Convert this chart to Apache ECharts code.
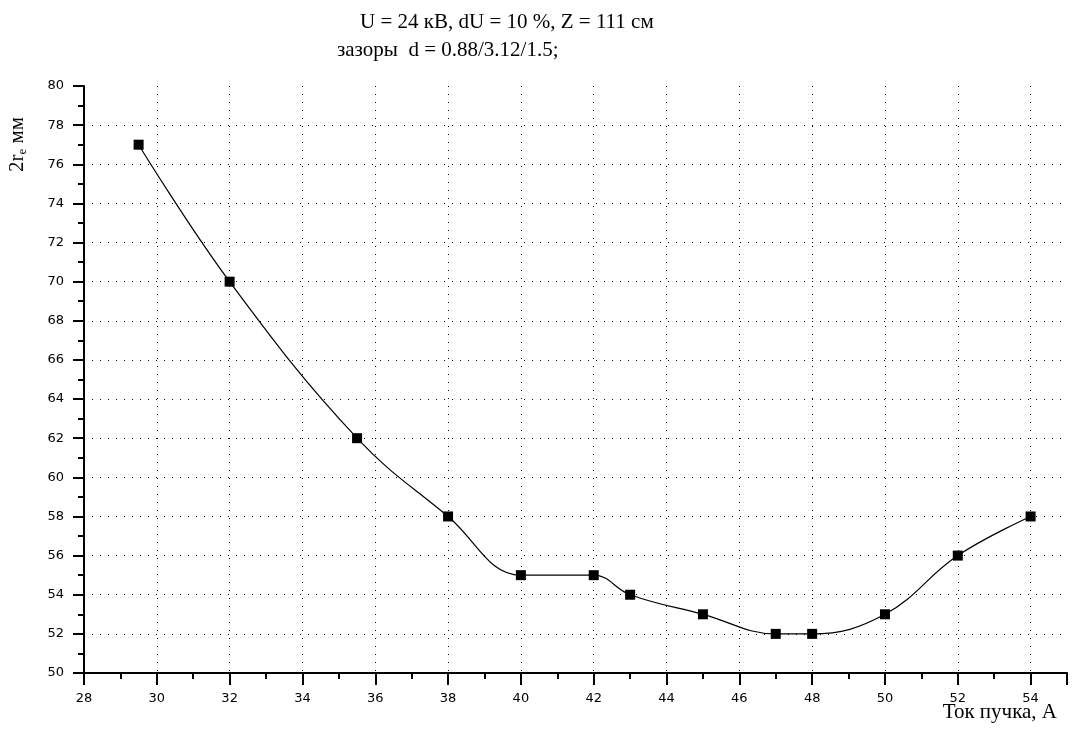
<!DOCTYPE html>
<html>
<head>
<meta charset="utf-8">
<script src="https://cdn.jsdelivr.net/npm/echarts@6/dist/echarts.min.js"></script>
<style>
html,body{margin:0;padding:0;background:#fff;}
#chart{width:1075px;height:734px;}
</style>
</head>
<body>
<div id="chart"></div>
<script>
var beamCurrent = [29.5, 32, 35.5, 38, 40, 42, 43, 45, 47, 48, 50, 52, 54];
var diameter = [77, 70, 62, 58, 55, 55, 54, 53, 52, 52, 53, 56, 58];
var titleLine1 = 'U = 24 кВ, dU = 10 %, Z = 111 см';
var titleLine2 = 'зазоры  d = 0.88/3.12/1.5;';
var xName = 'Ток пучка, А';

var chart = echarts.init(document.getElementById('chart'));
var tickFont = {color: '#000', fontFamily: 'DejaVu Sans', fontSize: 13};
chart.setOption({
  animation: false,
  backgroundColor: '#fff',
  title: [
    {text: titleLine1, left: 355, top: 7, textStyle: {fontFamily: 'Liberation Serif', fontSize: 21, fontWeight: 'normal', color: '#000'}},
    {text: titleLine2, left: 332, top: 35, textStyle: {fontFamily: 'Liberation Serif', fontSize: 21, fontWeight: 'normal', color: '#000'}}
  ],
  graphic: [{
    type: 'text',
    x: 5, y: 172,
    rotation: Math.PI / 2,
    style: {
      text: '{a|2r}{s|e}{a| мм}',
      rich: {
        a: {fontFamily: 'Liberation Serif', fontSize: 21, fill: '#000'},
        s: {fontFamily: 'Liberation Serif', fontSize: 13, fill: '#000', verticalAlign: 'bottom', padding: [11, 0, 0, 0]}
      }
    }
  }, {
    type: 'text',
    x: 1057, y: 702,
    style: {
      text: xName,
      align: 'right',
      verticalAlign: 'top',
      fontFamily: 'Liberation Serif', fontSize: 21, fill: '#000'
    }
  }],
  grid: {left: 84, right: 8, top: 86, bottom: 61, outerBoundsMode: 'none', containLabel: false},
  xAxis: {
    type: 'value', min: 28, max: 55, interval: 2,
    axisLine: {lineStyle: {color: '#000', width: 2}},
    axisTick: {show: true, length: 12, lineStyle: {color: '#000', width: 2}},
    minorTick: {show: true, splitNumber: 2, length: 6, lineStyle: {color: '#000', width: 2}},
    axisLabel: Object.assign({margin: 19, formatter: function (v) { return v <= 54 ? v : ''; }}, tickFont),
    splitLine: {show: true, showMinLine: false, showMaxLine: false, lineStyle: {color: '#000', width: 1, type: [1, 7]}}
  },
  yAxis: {
    type: 'value', min: 50, max: 80, interval: 2,
    axisLine: {show: true, lineStyle: {color: '#000', width: 2}},
    axisTick: {show: true, length: 11, lineStyle: {color: '#000', width: 2}},
    minorTick: {show: true, splitNumber: 2, length: 6, lineStyle: {color: '#000', width: 2}},
    axisLabel: Object.assign({margin: 20}, tickFont),
    splitLine: {show: true, showMinLine: false, showMaxLine: false, lineStyle: {color: '#000', width: 1, type: [1, 7]}}
  },
  series: [{
    type: 'line',
    data: beamCurrent.map(function (x, i) { return [x, diameter[i]]; }),
    smooth: 0.4,
    symbol: 'rect',
    symbolSize: 10,
    itemStyle: {color: '#000'},
    lineStyle: {color: '#000', width: 1.2}
  }]
});
</script>
</body>
</html>
